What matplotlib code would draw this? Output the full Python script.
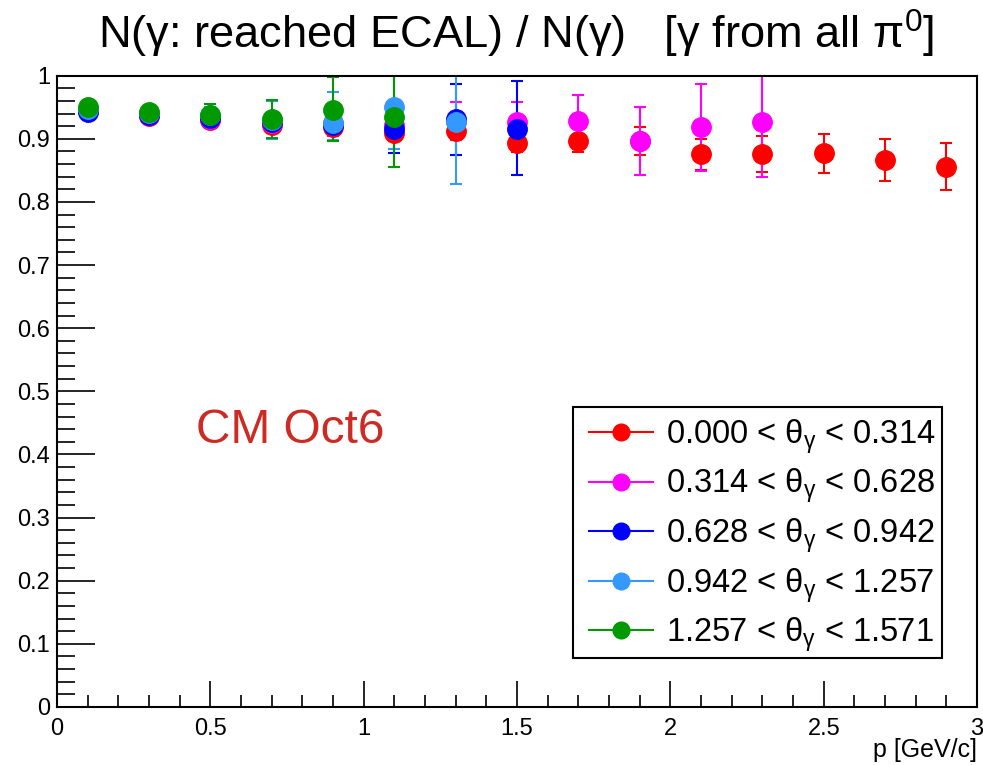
import numpy as np
import matplotlib
matplotlib.use("Agg")
import matplotlib.pyplot as plt
from matplotlib.lines import Line2D
from matplotlib.patches import Rectangle
from matplotlib.ticker import MultipleLocator

plt.rcParams['font.family'] = ['Liberation Sans', 'DejaVu Sans']
plt.rcParams['mathtext.fontset'] = 'custom'
plt.rcParams['mathtext.rm'] = 'Liberation Sans'
plt.rcParams['mathtext.it'] = 'Liberation Sans'

# momentum bin centres
p_red = [0.1, 0.3, 0.5, 0.7, 0.9, 1.1, 1.3, 1.5, 1.7, 1.9, 2.1, 2.3, 2.5, 2.7, 2.9]
eff_red = [0.944, 0.936, 0.930, 0.922, 0.919, 0.909, 0.913, 0.894, 0.897, 0.897,
           0.876, 0.876, 0.877, 0.867, 0.856]
up_red = [0.003, 0.004, 0.005, 0.010, 0.014, 0.012, 0.015, 0.015, 0.020, 0.022,
          0.023, 0.028, 0.031, 0.033, 0.038]
dn_red = [0.003, 0.004, 0.005, 0.010, 0.014, 0.012, 0.015, 0.015, 0.018, 0.022,
          0.025, 0.028, 0.031, 0.033, 0.037]

p_mag = [0.1, 0.3, 0.5, 0.7, 0.9, 1.1, 1.3, 1.5, 1.7, 1.9, 2.1, 2.3]
eff_mag = [0.945, 0.938, 0.932, 0.925, 0.925, 0.922, 0.928, 0.927, 0.929, 0.897, 0.918, 0.926]
up_mag = [0.003, 0.004, 0.007, 0.012, 0.020, 0.025, 0.030, 0.032, 0.041, 0.053, 0.069, 0.090]
dn_mag = [0.003, 0.004, 0.007, 0.012, 0.020, 0.025, 0.030, 0.030, 0.040, 0.054, 0.069, 0.086]

p_blu = [0.1, 0.3, 0.5, 0.7, 0.9, 1.1, 1.3, 1.5]
eff_blu = [0.943, 0.937, 0.933, 0.926, 0.922, 0.916, 0.931, 0.916]
up_blu = [0.003, 0.005, 0.008, 0.015, 0.025, 0.037, 0.056, 0.075]
dn_blu = [0.003, 0.005, 0.008, 0.015, 0.025, 0.038, 0.057, 0.073]

p_azu = [0.1, 0.3, 0.5, 0.7, 0.9, 1.1, 1.3]
eff_azu = [0.947, 0.941, 0.938, 0.930, 0.925, 0.950, 0.927]
up_azu = [0.004, 0.006, 0.012, 0.030, 0.050, 0.066, 0.099]
dn_azu = [0.004, 0.006, 0.012, 0.030, 0.027, 0.066, 0.099]

p_grn = [0.1, 0.3, 0.5, 0.7, 0.9, 1.1]
eff_grn = [0.950, 0.942, 0.938, 0.931, 0.945, 0.935]
up_grn = [0.004, 0.006, 0.018, 0.030, 0.053, 0.077]
dn_grn = [0.004, 0.006, 0.016, 0.029, 0.049, 0.080]

labels = ["0.000 < θ$_{γ}$ < 0.314", "0.314 < θ$_{γ}$ < 0.628", "0.628 < θ$_{γ}$ < 0.942",
          "0.942 < θ$_{γ}$ < 1.257", "1.257 < θ$_{γ}$ < 1.571"]
colors = ['#ff0000', '#ff00ff', '#0000ff', '#3399ff', '#009900']

series = [(p_red, eff_red, dn_red, up_red), (p_mag, eff_mag, dn_mag, up_mag),
          (p_blu, eff_blu, dn_blu, up_blu), (p_azu, eff_azu, dn_azu, up_azu),
          (p_grn, eff_grn, dn_grn, up_grn)]

fig = plt.figure(figsize=(9.83, 7.65), dpi=100)
ax = fig.add_axes([0.058, 0.076, 0.936, 0.825])

handles = []
for (x, y, dn, up), c, lab in zip(series, colors, labels):
    ax.errorbar(x, y, yerr=[dn, up], fmt='o', color=c, ms=14, mec=c,
                elinewidth=1.5, capsize=4, capthick=1.5)
    handles.append(Line2D([], [], color=c, marker='o', ms=12, lw=1.5, label=lab))

ax.set_xlim(0, 3)
ax.set_ylim(0, 1)
ax.xaxis.set_minor_locator(MultipleLocator(0.1))
ax.yaxis.set_minor_locator(MultipleLocator(0.02))
ax.set_xticks([0, 0.5, 1, 1.5, 2, 2.5, 3])
ax.set_xticklabels(['0', '0.5', '1', '1.5', '2', '2.5', '3'])
ax.set_yticks(np.arange(0, 1.01, 0.1))
ax.set_yticklabels(['0', '0.1', '0.2', '0.3', '0.4', '0.5', '0.6', '0.7', '0.8', '0.9', '1'])
ax.tick_params(which='both', direction='in', labelsize=17, width=1.2)
ax.tick_params(axis='y', which='major', length=27, pad=5)
ax.tick_params(axis='y', which='minor', length=13)
ax.tick_params(axis='x', which='major', length=19, pad=8)
ax.tick_params(axis='x', which='minor', length=9)
for s in ax.spines.values():
    s.set_linewidth(1.5)

fig.text(0.525, 0.955, "N(γ: reached ECAL) / N(γ)   [γ from all π$^{0}$]",
         ha='center', va='center', fontsize=32.6)
ax.text(3.0, -0.068, "p [GeV/c]", ha='right', va='center', fontsize=18)
ax.text(0.76, 0.438, "CM Oct6", color='#cc2a22', fontsize=34.5, ha='center', va='center')

# legend box drawn separately, ROOT-like
ax.add_patch(Rectangle((0.561, 0.078), 0.401, 0.397, transform=ax.transAxes,
                       fill=True, facecolor='white', edgecolor='black', lw=1.5, zorder=4))
leg = ax.legend(handles=handles, loc='upper right', bbox_to_anchor=(0.967, 0.477),
                borderaxespad=0, fontsize=23.5, frameon=False,
                handlelength=1.95, borderpad=0.35, labelspacing=0.34, handletextpad=0.4)
leg.set_zorder(5)

fig.savefig("out.png", dpi=100)
